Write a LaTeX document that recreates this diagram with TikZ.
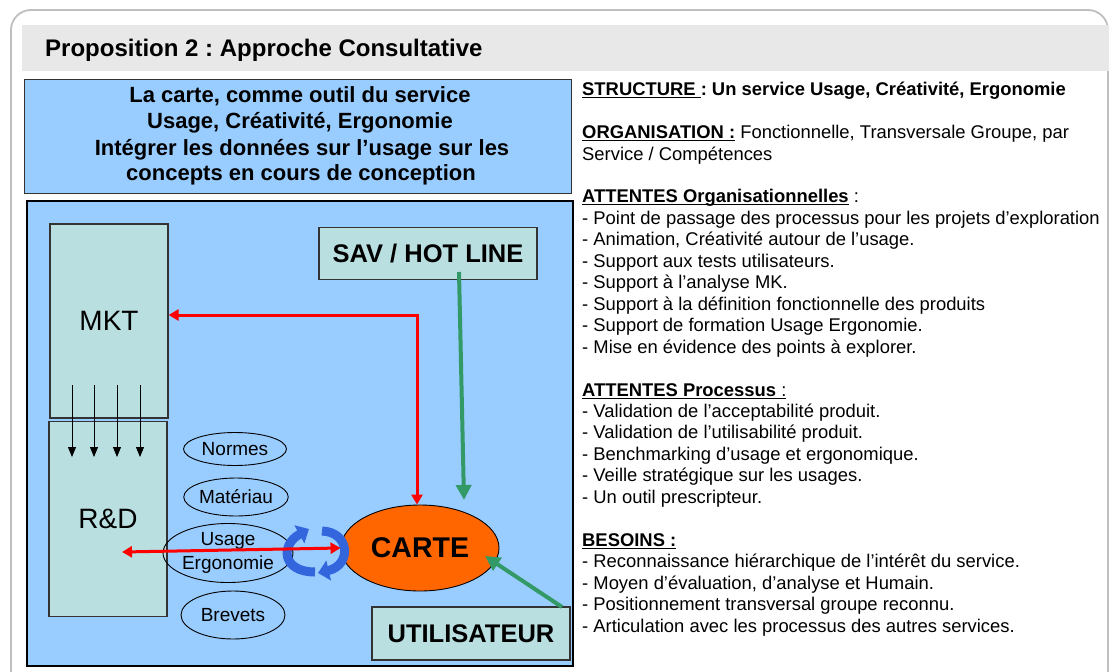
\documentclass[tikz,border=0pt]{standalone}
\usepackage{fontspec}
\setmainfont{Liberation Sans}
\newcommand{\myul}[1]{\leavevmode\setbox0\hbox{#1}\rlap{\rule[-3.2pt]{\wd0}{1.3pt}}\box0\relax}
\usetikzlibrary{arrows.meta,shapes.geometric}
\definecolor{framegray}{HTML}{BFBFBF}
\definecolor{headgray}{HTML}{E8E8E8}
\definecolor{skyblue}{HTML}{99CCFF}
\definecolor{tealbox}{HTML}{BADFE0}
\definecolor{arrgreen}{HTML}{339966}
\definecolor{carteorange}{HTML}{FF6600}
\definecolor{cycblue}{HTML}{3366DD}
\definecolor{boxedge}{HTML}{333333}
\tikzset{
  deptbox/.style={draw=boxedge, line width=1.2pt, fill=tealbox, inner sep=0pt},
  oval/.style={ellipse, draw=black, line width=0.9pt, inner sep=0pt, font=\fontsize{19}{24}\selectfont},
  rtext/.style={anchor=base west, inner sep=0pt, font=\fontsize{18.4}{21}\selectfont},
  ttext/.style={anchor=base, inner sep=0pt, font=\bfseries\fontsize{22}{26}\selectfont},
  redarr/.style={draw=red, line width=3pt, {Triangle[width=11pt,length=10pt]}-{Triangle[width=11pt,length=10pt]}},
  greenarr/.style={draw=arrgreen, line width=4pt, -{Triangle[width=15pt,length=15pt]}},
  smallarr/.style={draw=black, line width=0.9pt, -{Triangle[width=8pt,length=10pt]}},
  cycarr/.style={draw=cycblue, line width=9pt, -{Triangle[width=20pt,length=11pt]}},
}
\begin{document}
\frenchspacing
\begin{tikzpicture}[x=1pt,y=-1pt]
\useasboundingbox (0,0) rectangle (1109,672);
\begin{scope}
  \clip (0,0) rectangle (1109,672);
  \draw[framegray, line width=1.8pt, rounded corners=20pt] (11,10) rectangle (1108,690);
  \fill[headgray] (22,25) rectangle (1115,71);
\end{scope}
\node[anchor=base west, inner sep=0pt, font=\bfseries\fontsize{24}{28}\selectfont] (title) at (45,56) {Proposition 2 : Approche Consultative};

% top blue box
\node[draw=boxedge, line width=1.3pt, fill=skyblue, anchor=north west, inner sep=0pt, minimum width=547pt, minimum height=114pt] (topbox) at (24,79) {};
\node[ttext] (tb1) at (300,102) {La carte, comme outil du service};
\node[ttext] (tb2) at (300,128) {Usage, Créativité, Ergonomie};
\node[ttext] (tb3) at (302,155) {Intégrer les données sur l’usage sur les};
\node[ttext] (tb4) at (301,180) {concepts en cours de conception};

% main box
\node[draw=black, line width=2pt, fill=skyblue, anchor=north west, inner sep=0pt, minimum width=546pt, minimum height=465pt] (mainbox) at (26,200) {};

\node[deptbox, minimum width=118pt, minimum height=194pt, font=\fontsize{28}{30}\selectfont] (mkt) at (109,321) {MKT};
\node[deptbox, minimum width=118pt, minimum height=195pt, font=\fontsize{28}{30}\selectfont] (rd) at (108,519) {R\&D};
\node[deptbox, minimum width=218pt, minimum height=52pt, font=\bfseries\fontsize{25.5}{28}\selectfont] (sav) at (428,253.5) {SAV / HOT LINE};
\node[deptbox, minimum width=198pt, minimum height=53pt, font=\bfseries\fontsize{25.5}{28}\selectfont] (util) at (471,633.5) {UTILISATEUR};

\node[oval, minimum width=103pt, minimum height=33pt] (normes) at (235,449) {Normes};
\node[oval, minimum width=104pt, minimum height=38pt] (mat) at (236,497) {Matériau};
\node[oval, minimum width=109pt, minimum height=59pt, align=center] (usage) at (228,553) {Usage\\Ergonomie};
\node[oval, minimum width=104pt, minimum height=48pt] (brevets) at (233,615) {Brevets};

\node[ellipse, draw=black, line width=0.9pt, fill=carteorange, inner sep=0pt, minimum width=158pt, minimum height=86pt, font=\bfseries\fontsize{28.5}{30}\selectfont] (carte) at (420,548) {CARTE};

% small arrows MKT -> R&D
\foreach \i/\x in {1/72,2/94,3/117,4/140}{
  \coordinate (a\i) at (\x,385);
  \coordinate (b\i) at (\x,457);
  \draw[smallarr] (a\i) -- (b\i);
}

% blue cycle arrows
\coordinate (cl1) at (315,572);
\coordinate (cl2) at (309,529);
\coordinate (cr1) at (322,531);
\coordinate (cr2) at (318,573);
\draw[cycarr] (cl1) .. controls (282,572) and (280,545) .. (cl2);
\draw[cycarr] (cr1) .. controls (350,532) and (352,565) .. (cr2);

% red arrows
\draw[redarr] ([yshift=6pt]mkt.east) -| ([xshift=-3pt]carte.north);
\coordinate (rdin) at (122,552);
\draw[redarr] (rdin) -- (carte.west);

% green arrows
\coordinate (gs) at (459,272);
\coordinate (gt) at (464,500);
\draw[greenarr] (gs) -- (gt);
\coordinate (g2s) at (562,607);
\coordinate (g2t) at (485,556);
\draw[greenarr] (g2s) -- (g2t);

% right text
\node[rtext] (t1) at (582,95) {\textbf{\myul{STRUCTURE }: Un service Usage, Créativité, Ergonomie}};
\node[rtext] (t2) at (582,138) {\textbf{\myul{ORGANISATION :}} Fonctionnelle, Transversale Groupe, par};
\node[rtext] (t3) at (582,160) {Service / Compétences};
\node[rtext] (t4) at (582,202) {\myul{\textbf{ATTENTES Organisationnelles}} :};
\node[rtext] (t5) at (582,224) {- Point de passage des processus pour les projets d’exploration};
\node[rtext] (t6) at (582,245) {- Animation, Créativité autour de l’usage.};
\node[rtext] (t7) at (582,267) {- Support aux tests utilisateurs.};
\node[rtext] (t8) at (582,288) {- Support à l’analyse MK.};
\node[rtext] (t9) at (582,310) {- Support à la définition fonctionnelle des produits};
\node[rtext] (t10) at (582,331) {- Support de formation Usage Ergonomie.};
\node[rtext] (t11) at (582,353) {- Mise en évidence des points à explorer.};
\node[rtext] (t12) at (582,396) {\myul{\textbf{ATTENTES Processus} :}};
\node[rtext] (t13) at (582,417) {- Validation de l’acceptabilité produit.};
\node[rtext] (t14) at (582,438) {- Validation de l’utilisabilité produit.};
\node[rtext] (t15) at (582,460) {- Benchmarking d’usage et ergonomique.};
\node[rtext] (t16) at (582,481) {- Veille stratégique sur les usages.};
\node[rtext] (t17) at (582,503) {- Un outil prescripteur.};
\node[rtext] (t18) at (582,546) {\textbf{\myul{BESOINS :}}};
\node[rtext] (t19) at (582,567) {- Reconnaissance hiérarchique de l’intérêt du service.};
\node[rtext] (t20) at (582,589) {- Moyen d’évaluation, d’analyse et Humain.};
\node[rtext] (t21) at (582,610) {- Positionnement transversal groupe reconnu.};
\node[rtext] (t22) at (582,632) {- Articulation avec les processus des autres services.};
\end{tikzpicture}
\end{document}
